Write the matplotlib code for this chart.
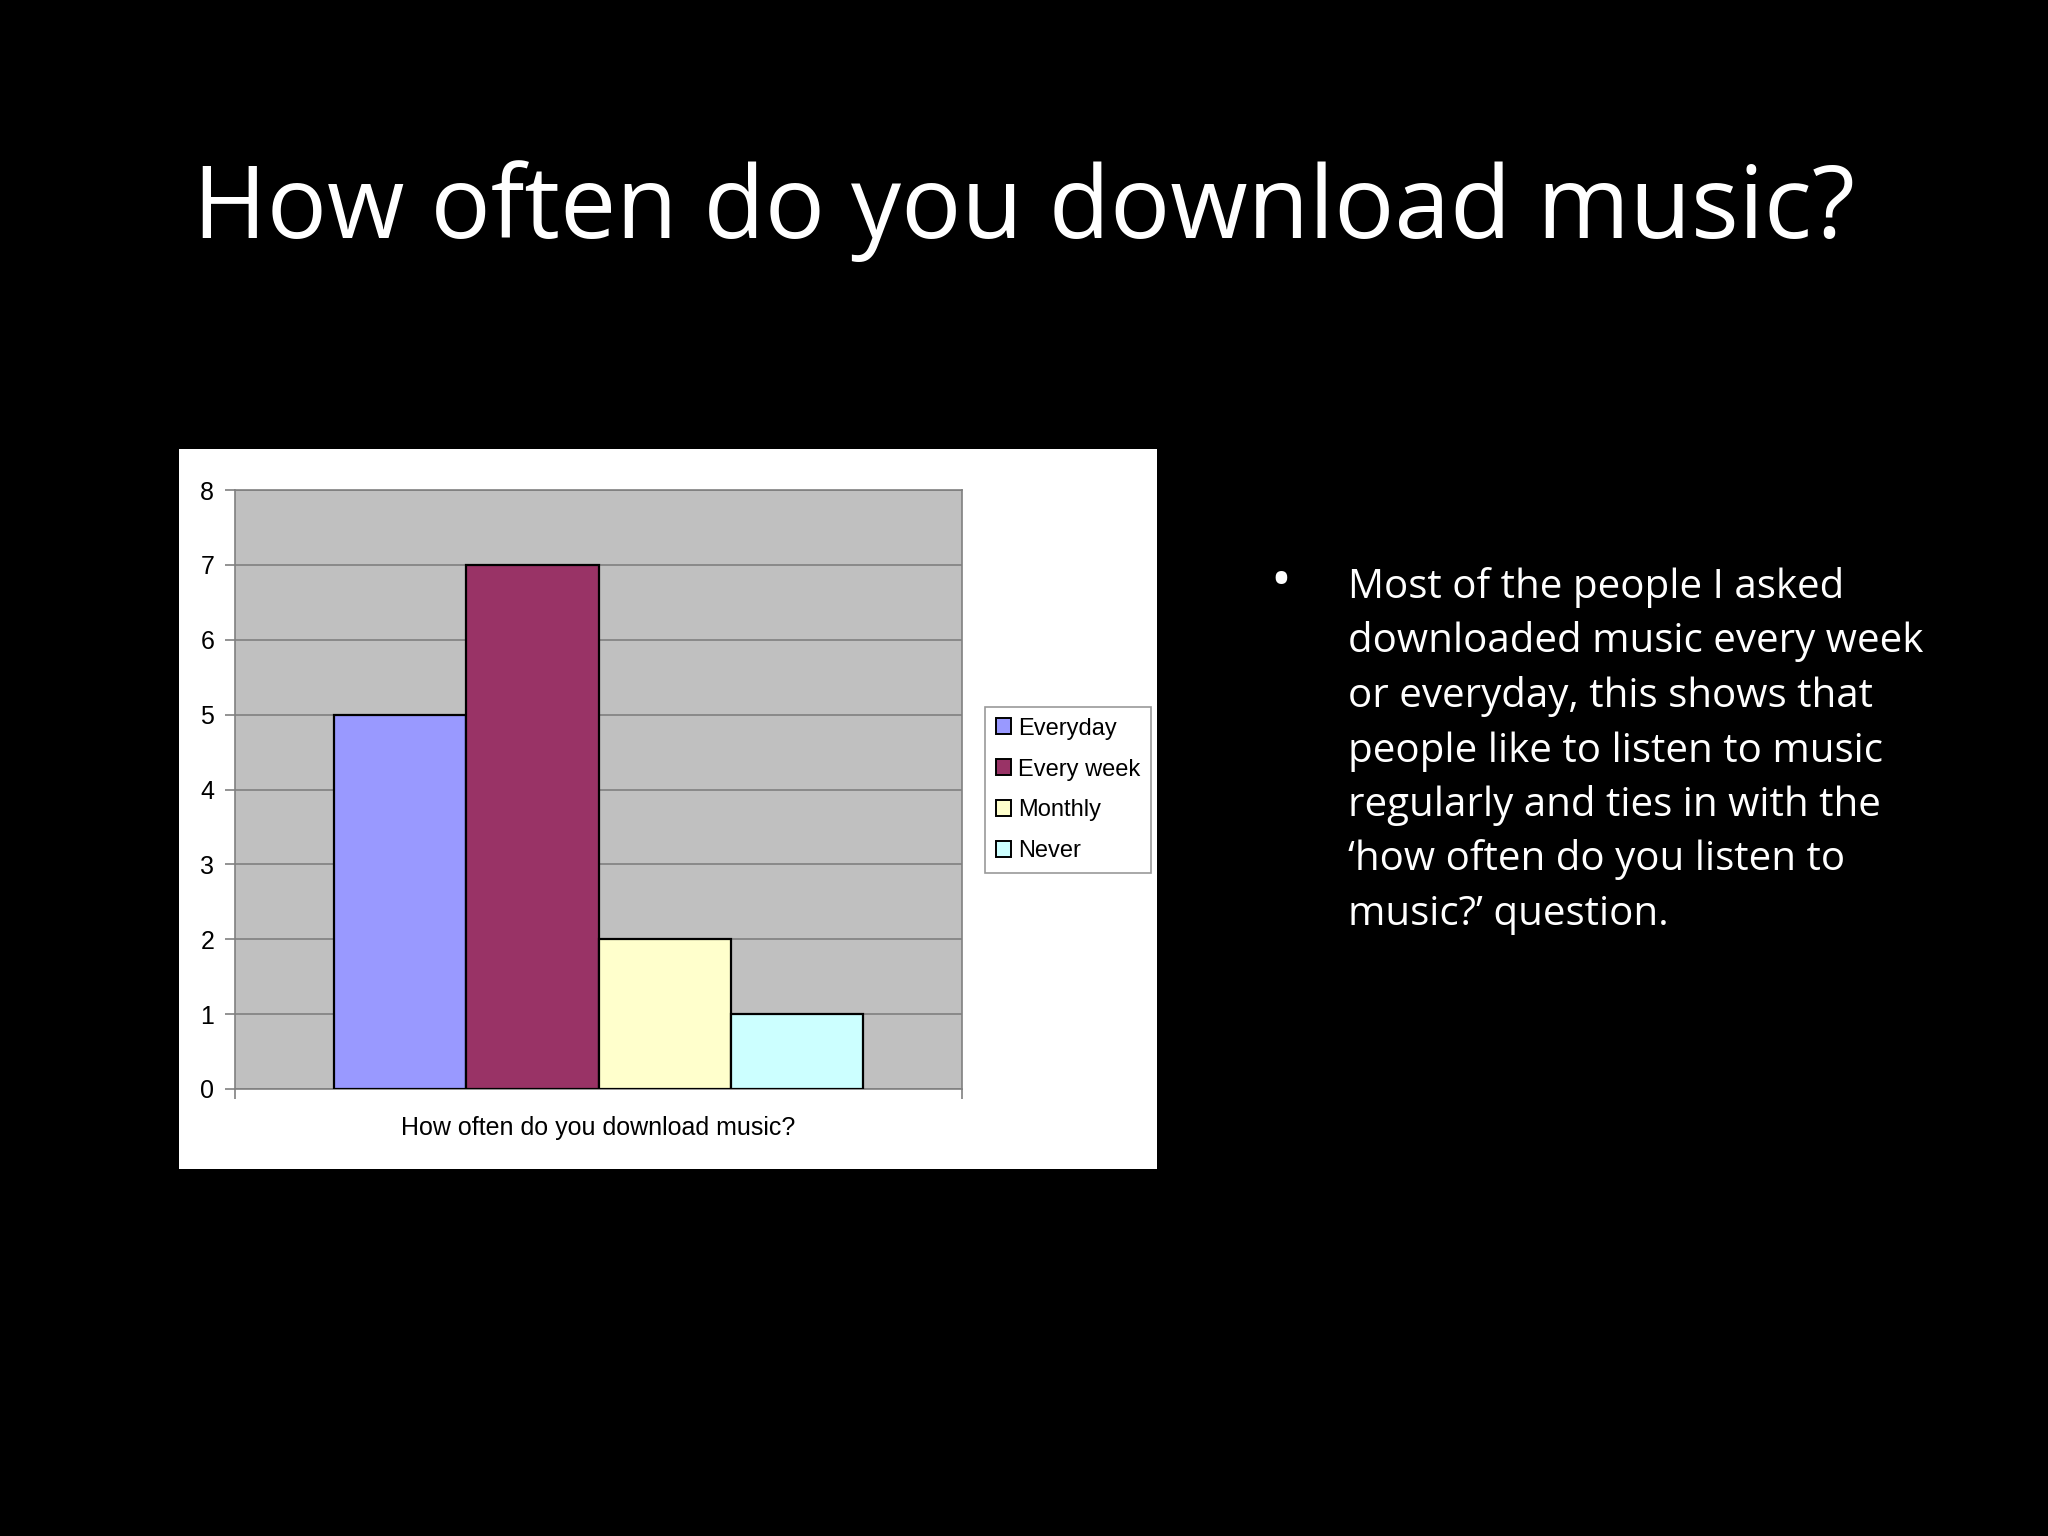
import numpy as np
import matplotlib
matplotlib.use("Agg")
from matplotlib import pyplot
from matplotlib.patches import Rectangle
plt = pyplot

# data
categories = ["Everyday", "Every week", "Monthly", "Never"]
counts = [5, 7, 2, 1]
bar_colors = ["#9999FF", "#993366", "#FFFFCC", "#CCFFFF"]
y_ticks = [0, 1, 2, 3, 4, 5, 6, 7, 8]
x_label = "How often do you download music?"
title = "How often do you download music?"
bullet_lines = [
    "Most of the people I asked",
    "downloaded music every week",
    "or everyday, this shows that",
    "people like to listen to music",
    "regularly and ties in with the",
    "\u2018how often do you listen to",
    "music?\u2019 question.",
]

SLIDE_FONT = ["Open Sans", "DejaVu Sans"]
CHART_FONT = ["Liberation Sans", "DejaVu Sans"]

fig = plt.figure(figsize=(20.48, 15.36), dpi=100, facecolor="black")

# slide title
fig.text(0.5, 1 - 238 / 1536, title, color="white", fontsize=72,
         family=SLIDE_FONT, ha="center", va="baseline")

# white chart background
fig.patches.append(Rectangle((179 / 2048, 1 - 1169 / 1536), (1157 - 179) / 2048,
                             (1169 - 449) / 1536, transform=fig.transFigure,
                             facecolor="white", edgecolor="none", zorder=0))

# plot area
ax = fig.add_axes([235 / 2048, 1 - 1089 / 1536, (962 - 235) / 2048, (1089 - 490) / 1536])
ax.set_facecolor("#C0C0C0")
ax.set_zorder(1)

w = 0.182
for i, (name, val, col) in enumerate(zip(categories, counts, bar_colors)):
    ax.bar((i - 1.5) * w, val, width=w, color=col, edgecolor="black",
           linewidth=1.6, label=name, zorder=3)

ax.set_xlim(-0.5, 0.5)
ax.set_ylim(0, 8)
ax.set_yticks(y_ticks)
ax.set_yticklabels([str(t) for t in y_ticks], family=CHART_FONT, fontsize=18)
ax.yaxis.grid(True, color="#808080", linewidth=1.2, zorder=1)
ax.set_axisbelow(True)
ax.tick_params(axis="y", length=7, width=1.2, color="#808080", pad=8)
ax.set_xticks([-0.5, 0.5])
ax.set_xticklabels(["", ""])
ax.tick_params(axis="x", length=7, width=1.2, color="#808080")
for s in ax.spines.values():
    s.set_color("#808080")
    s.set_linewidth(1.2)
ax.set_xlabel(x_label, family=CHART_FONT, fontsize=18, labelpad=9)

leg = ax.legend(loc="upper left", bbox_to_anchor=(985 / 2048, 1 - 707 / 1536),
                bbox_transform=fig.transFigure, frameon=True, fancybox=False,
                prop={"family": CHART_FONT, "size": 17}, handlelength=0.65,
                handleheight=0.65, handletextpad=0.3, labelspacing=0.8,
                borderpad=0.45, borderaxespad=0)
leg.get_frame().set_edgecolor("#808080")
leg.get_frame().set_linewidth(1.2)
for h in leg.legend_handles:
    h.set_linewidth(1.4)

# bullet text
fig.text(1281 / 2048, 1 - 598 / 1536, "\u2022", color="white", fontsize=40,
         family=SLIDE_FONT, ha="center", va="baseline")
for k, line in enumerate(bullet_lines):
    fig.text(1348 / 2048, 1 - (598 + k * 54.5) / 1536, line, color="white",
             fontsize=29, family=SLIDE_FONT, ha="left", va="baseline")

plt.savefig("out.png", dpi=100, facecolor="black")
